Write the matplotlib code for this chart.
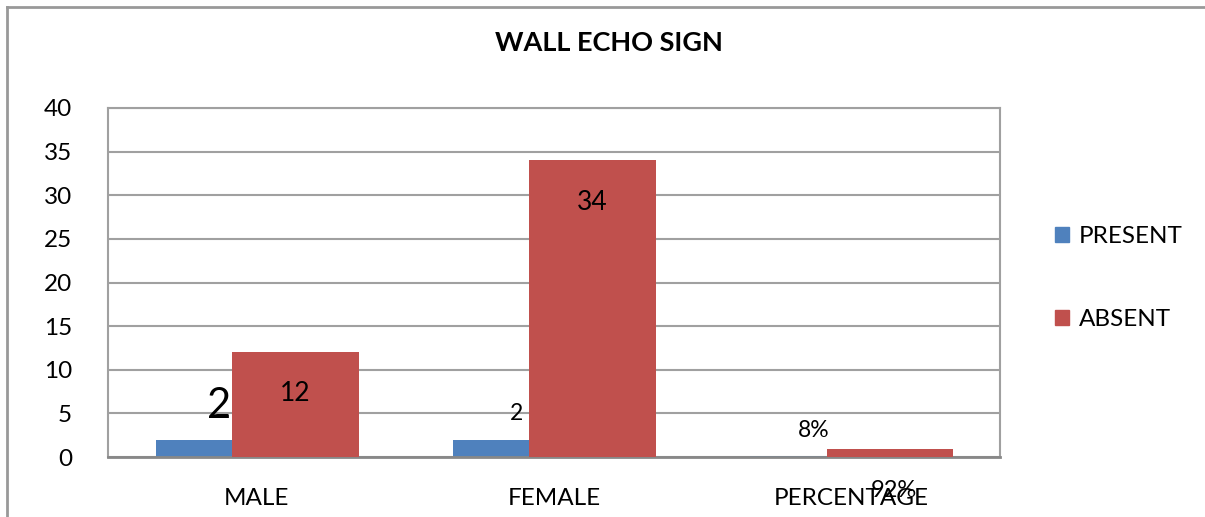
import matplotlib
matplotlib.use("Agg")
import matplotlib.pyplot as plt
from matplotlib.patches import Rectangle
import numpy as np

categories = ["MALE", "FEMALE", "PERCENTAGE"]
present = [2, 2, 0.08]
absent = [12, 34, 0.92]
present_labels = ["2", "2", "8%"]
absent_labels = ["12", "34", "92%"]
yticks = [0, 5, 10, 15, 20, 25, 30, 35, 40]

BLUE = "#4F81BD"
RED = "#C0504D"
FONT = "Lato"

fig = plt.figure(figsize=(12.05, 5.17), dpi=100)
W, H = 1205, 517
ax = fig.add_axes([108 / W, 1 - 457 / H, 892 / W, 349 / H])

x = np.arange(len(categories))
bw = 0.427
off_p = -0.126
off_a = 0.13
ax.bar(x + off_p, present, width=bw, color=BLUE, zorder=2)
ax.bar(x + off_a, absent, width=bw, color=RED, zorder=3)

ax.set_xlim(-0.5, 2.5)
ax.set_ylim(0, 40)
ax.set_yticks(yticks)
ax.set_yticklabels([str(t) for t in yticks], fontsize=17.5, fontname=FONT)
ax.set_xticks(x)
ax.set_xticklabels(categories, fontsize=17.5, fontname=FONT)
ax.tick_params(axis="y", length=0, pad=26)
ax.tick_params(axis="x", length=0, pad=22)
ax.grid(axis="y", color="#A0A0A0", linewidth=1.5, zorder=0)
ax.set_axisbelow(True)
for s in ["top", "right", "left"]:
    ax.spines[s].set_color("#A0A0A0")
    ax.spines[s].set_linewidth(1.5)
ax.spines["bottom"].set_color("#888888")
ax.spines["bottom"].set_linewidth(2)

# data labels
ax.annotate(present_labels[0], (x[0] + off_p, present[0]), xytext=(0, 10.5),
            textcoords="offset points", ha="center", va="bottom",
            fontsize=30, fontname=FONT, zorder=5)
ax.annotate(present_labels[1], (x[1] + off_p, present[1]), xytext=(0, 11),
            textcoords="offset points", ha="center", va="bottom",
            fontsize=16.5, fontname=FONT, zorder=5)
ax.annotate(present_labels[2], (x[2] + off_p, present[2]), xytext=(0, 11),
            textcoords="offset points", ha="center", va="bottom",
            fontsize=16.5, fontname=FONT, zorder=5)
ax.annotate(absent_labels[0], (x[0] + off_a, absent[0]), xytext=(0, -21),
            textcoords="offset points", ha="center", va="top",
            fontsize=19, fontname=FONT, zorder=5)
ax.annotate(absent_labels[1], (x[1] + off_a, absent[1]), xytext=(0, -21),
            textcoords="offset points", ha="center", va="top",
            fontsize=19, fontname=FONT, zorder=5)
ax.annotate(absent_labels[2], (x[2] + off_a, absent[2]), xytext=(3, -22),
            textcoords="offset points", ha="center", va="top",
            fontsize=17, fontname=FONT, zorder=5, annotation_clip=False)

fig.text(609 / W, 1 - 43 / H, "WALL ECHO SIGN", ha="center", va="center",
         fontsize=19.5, fontweight="bold", fontname=FONT)

# legend
handles = [Rectangle((0, 0), 1, 1, color=BLUE), Rectangle((0, 0), 1, 1, color=RED)]
fig.legend(handles, ["PRESENT", "ABSENT"], loc="center left",
           bbox_to_anchor=(1033 / W, 1 - 278 / H), frameon=False,
           prop={"family": FONT, "size": 17.5}, handlelength=0.6, handleheight=0.6,
           handletextpad=0.4, labelspacing=2.55)

# outer chart border (only top and left visible)
fig.add_artist(plt.Line2D([7 / W, 7 / W], [0, 1 - 7 / H], transform=fig.transFigure,
                          color="#999999", linewidth=2))
fig.add_artist(plt.Line2D([7 / W, 1], [1 - 7 / H, 1 - 7 / H], transform=fig.transFigure,
                          color="#999999", linewidth=2))

fig.savefig("out.png", dpi=100)
